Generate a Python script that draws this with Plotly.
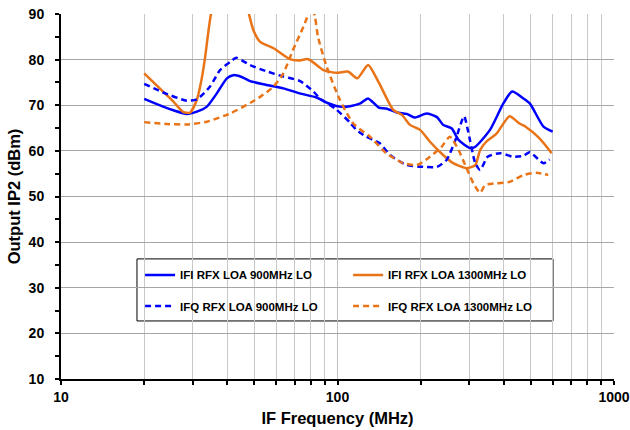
import plotly.graph_objects as go

# IFI RFX LOA 900MHz LO (azul, continua)
ifi900_f = [20, 23.4, 25.5, 28.5, 31, 33.7, 36.6, 39.8, 42, 45, 48.3, 55, 63.7, 73, 84, 92, 102,
            111, 121, 129, 141, 150, 164, 178, 190, 210, 229, 241, 259, 274, 302, 315, 356,
            398, 428, 470, 496, 556, 600]
ifi900_v = [71.4, 69.7, 68.9, 68.1, 68.6, 69.7, 72.6, 75.9, 76.6, 76.2, 75.3, 74.5, 73.7, 72.6,
            71.7, 70.5, 69.7, 69.8, 70.4, 71.5, 69.5, 69.3, 68.4, 68.1, 67.3, 68.2, 67.4, 65.7,
            64.9, 62.4, 60.6, 60.9, 64.6, 70.4, 73.0, 71.5, 70.4, 65.3, 64.2]

# IFQ RFX LOA 900MHz LO (azul, punteada)
ifq900_f = [20, 23.4, 28.5, 31, 34.6, 37.6, 40.9, 43, 48.3, 55, 63.7, 73.3, 81.8, 87, 98, 111,
            117, 127, 142, 155, 178, 204, 229, 248, 267, 287, 296, 315, 328, 349, 387, 432,
            470, 496, 556, 585]
ifq900_v = [74.7, 72.8, 71.0, 71.3, 74.1, 77.7, 79.5, 80.4, 78.8, 77.5, 76.3, 75.3, 73.0, 71.3,
            69.3, 66.2, 64.6, 63.1, 61.7, 59.1, 56.9, 56.5, 56.5, 58.0, 62.4, 67.6, 64.6, 57.3,
            55.8, 58.7, 59.5, 58.7, 58.9, 59.7, 57.3, 58.1]

# IFI RFX LOA 1300MHz LO (naranja, continua)
ifi1300_f = [20, 23.4, 25.5, 27.7, 29.3, 31, 32.2, 33.1, 35, 38, 42, 45, 47.6, 49.6, 52.5, 58.7,
             67.3, 72.2, 78.4, 89, 99.3, 109, 118, 129, 141, 159, 171, 183, 199, 216, 241, 262,
             293, 315, 328, 345, 376, 419, 455, 479, 537, 595]
ifi1300_v = [77.0, 73.0, 70.8, 68.5, 68.4, 71.2, 75.5, 79.9, 90.5, 97, 99, 96, 90.5, 86.5, 83.9,
             82.5, 80.1, 79.8, 80.1, 77.7, 77.1, 77.4, 75.9, 78.8, 75.0, 69.0, 67.9, 65.7, 64.6,
             62.0, 59.1, 57.3, 56.2, 56.9, 60.2, 62.0, 63.8, 67.6, 66.0, 65.3, 62.8, 59.5]

# IFQ RFX LOA 1300MHz LO (naranja, punteada)
ifq1300_f = [20, 24, 28.5, 33.7, 40.9, 48.3, 53, 58.7, 63.7, 69, 75.3, 80.8, 82.9, 85, 91.3, 102,
             114, 131, 150, 173, 194, 216, 238, 255, 274, 293, 310, 328, 342, 376, 419, 470,
             524, 578]
ifq1300_v = [66.3, 65.9, 65.8, 66.4, 68.2, 70.5, 72.0, 74.1, 77.0, 82.1, 87.2, 91.5, 89.4, 85.0,
             78.5, 71.2, 66.0, 63.1, 59.5, 57.3, 56.9, 58.7, 60.9, 63.1, 60.2, 56.2, 52.9, 50.8,
             52.5, 52.9, 53.2, 54.7, 55.2, 54.7]

AZUL = "#0000FF"
NARANJA = "#E97417"
FUENTE = "Liberation Sans, Arial, sans-serif"


def main():
    fig = go.Figure()

    series = [
        (ifi900_f, ifi900_v, AZUL, "solid", "IFI RFX LOA 900MHz LO", "legend"),
        (ifi1300_f, ifi1300_v, NARANJA, "solid", "IFI RFX LOA 1300MHz LO", "legend"),
        (ifq900_f, ifq900_v, AZUL, "6px,4px", "IFQ RFX LOA 900MHz LO", "legend2"),
        (ifq1300_f, ifq1300_v, NARANJA, "6px,4px", "IFQ RFX LOA 1300MHz LO", "legend2"),
    ]

    for f, v, color, dash, nombre, leyenda in series:
        fig.add_trace(
            go.Scatter(
                x=f,
                y=v,
                mode="lines",
                name=nombre,
                legend=leyenda,
                line=dict(color=color, width=2.5, dash=dash, shape="spline", smoothing=0.6),
            )
        )

    leyenda_base = dict(
        orientation="h",
        x=0.143,
        xanchor="left",
        yanchor="middle",
        bgcolor="rgba(0,0,0,0)",
        borderwidth=0,
        entrywidth=163,
        font=dict(family=FUENTE, size=11.5, color="#000000", weight="bold"),
        traceorder="normal",
    )

    fig.update_layout(
        width=630,
        height=430,
        margin=dict(l=61, r=16, t=14, b=51),
        paper_bgcolor="#FFFFFF",
        plot_bgcolor="#FFFFFF",
        font=dict(family=FUENTE, color="#000000"),
        showlegend=True,
        legend=dict(leyenda_base, y=0.285),
        legend2=dict(leyenda_base, y=0.200),
        shapes=[
            dict(
                type="rect",
                xref="paper",
                yref="paper",
                x0=0.1374,
                x1=0.8897,
                y0=0.159,
                y1=0.329,
                fillcolor="#FFFFFF",
                line=dict(color="#000000", width=1),
                layer="between",
            )
        ],
    )

    fig.update_xaxes(
        type="log",
        range=[1, 3],
        automargin=False,
        tickvals=[10, 100, 1000],
        ticktext=["10", "100", "1000"],
        ticklabeloverflow="allow",
        ticks="outside",
        ticklen=4,
        tickwidth=2,
        tickcolor="#000000",
        ticklabelstandoff=0,
        showline=True,
        linecolor="#000000",
        linewidth=2,
        showgrid=True,
        gridcolor="#BFBFBF",
        gridwidth=1,
        zeroline=False,
        tickfont=dict(size=14, weight="bold"),
        title=dict(text="IF Frequency (MHz)", font=dict(size=16.5, weight="bold"), standoff=9),
        minor=dict(
            tickvals=[20, 30, 40, 50, 60, 70, 80, 90, 200, 300, 400, 500, 600, 700, 800, 900],
            ticks="outside",
            ticklen=4,
            tickwidth=2,
            tickcolor="#000000",
            showgrid=True,
            gridcolor="#C8C8C8",
            gridwidth=1,
        ),
    )

    fig.update_yaxes(
        range=[10, 90],
        automargin=False,
        dtick=10,
        ticklabeloverflow="allow",
        ticks="outside",
        ticklen=4,
        tickwidth=2,
        tickcolor="#000000",
        ticklabelstandoff=8,
        showline=True,
        linecolor="#000000",
        linewidth=2,
        showgrid=True,
        gridcolor="#A6A6A6",
        gridwidth=1,
        zeroline=False,
        tickfont=dict(size=14, weight="bold"),
        title=dict(text="Output IP2 (dBm)", font=dict(size=16.5, weight="bold"), standoff=4),
        minor=dict(dtick=5, ticks="outside", ticklen=4, tickwidth=2, tickcolor="#000000", showgrid=False),
    )

    # Quitamos el margen del <body> para que la figura ocupe exactamente la ventana.
    fig.write_html(
        "out.html",
        config={"displayModeBar": False},
        post_script="document.body.style.margin = '0';",
    )


if __name__ == "__main__":
    main()
